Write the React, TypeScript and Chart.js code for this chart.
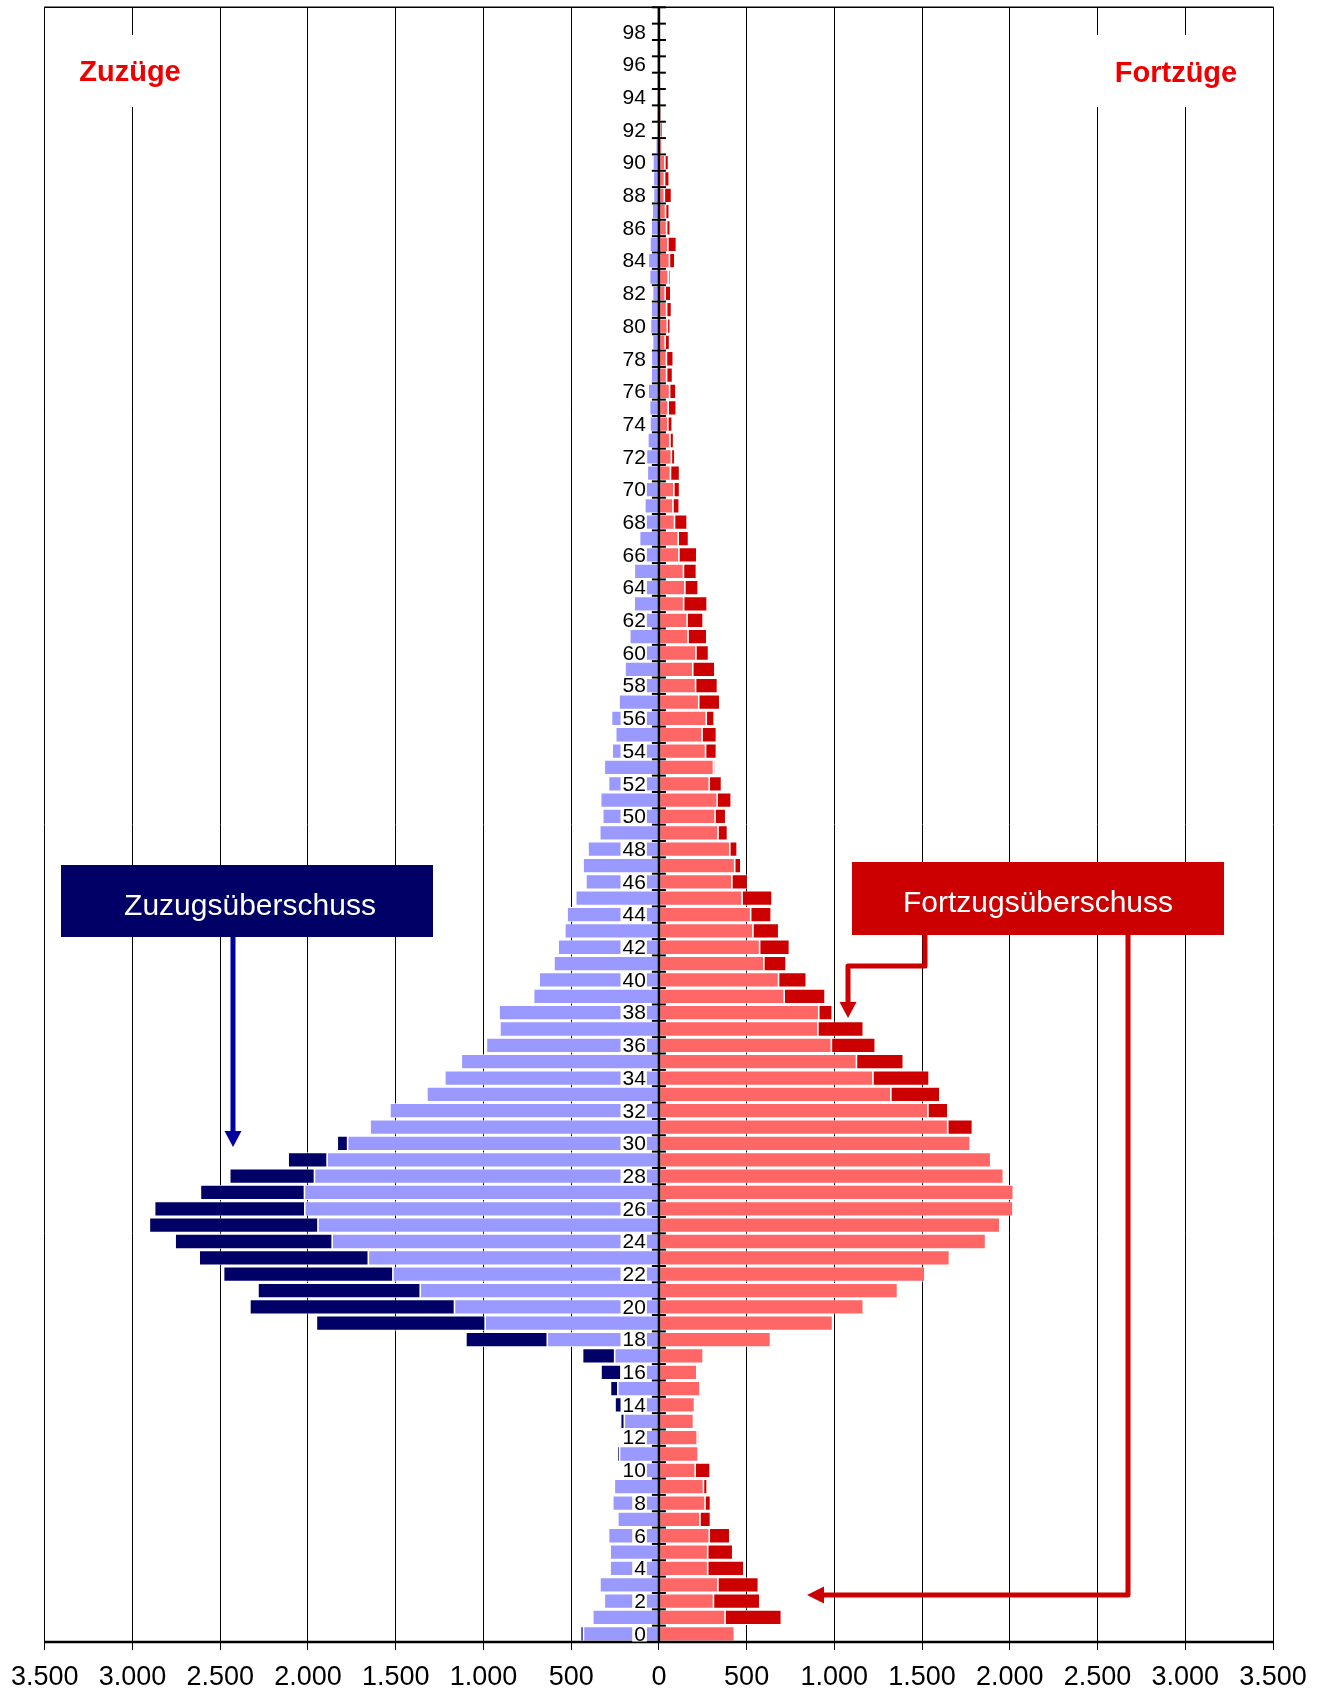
import React, { useEffect, useRef } from 'react';
import { Chart, registerables } from 'chart.js';

Chart.register(...registerables);

// Age categories 0..99 (bottom to top)
const ages: string[] = Array.from({ length: 100 }, (_, i) => String(i));

// Zuzüge (in-migration) by age 0..99
const zuzuege: number[] = [
  446, 377, 311, 336, 278, 278, 287, 234, 263, 254,
  207, 237, 218, 218, 250, 276, 330, 435, 1100, 1952,
  2331, 2285, 2481, 2620, 2757, 2904, 2874, 2613, 2446, 2113,
  1833, 1646, 1533, 1322, 1220, 1126, 983, 906, 911, 714,
  682, 598, 574, 536, 523, 474, 416, 432, 404, 337,
  320, 332, 287, 311, 266, 246, 270, 227, 209, 193,
  211, 166, 161, 141, 148, 140, 114, 110, 89, 80,
  85, 66, 71, 63, 51, 53, 61, 44, 43, 36,
  48, 44, 36, 53, 60, 51, 44, 38, 31, 32,
  34, 18, 6, 3, 2, 0, 0, 0, 0, 0,
];

// Fortzüge (out-migration) by age 0..99
const fortzuege: number[] = [
  430, 698, 575, 567, 484, 421, 404, 294, 294, 275,
  292, 224, 228, 197, 203, 234, 216, 252, 636, 990,
  1165, 1360, 1516, 1656, 1862, 1943, 2018, 2020, 1963, 1891,
  1774, 1787, 1647, 1601, 1540, 1393, 1233, 1165, 988, 947,
  840, 725, 744, 683, 640, 645, 505, 467, 446, 391,
  381, 412, 357, 321, 328, 328, 315, 347, 334, 319,
  283, 273, 252, 275, 224, 214, 216, 169, 161, 116,
  118, 118, 91, 84, 76, 99, 97, 78, 82, 61,
  65, 72, 68, 65, 91, 100, 65, 59, 72, 59,
  55, 22, 20, 14, 12, 0, 0, 0, 0, 0,
];

const xTicks: number[] = [-3500, -3000, -2500, -2000, -1500, -1000, -500, 0, 500, 1000, 1500, 2000, 2500, 3000, 3500];

const C_LIGHT_BLUE = '#9999ff';
const C_NAVY = '#000066';
const C_LIGHT_RED = '#ff6666';
const C_DARK_RED = '#cc0000';
const C_ARROW_BLUE = '#0000a0';
const C_TITLE_RED = '#ee0000';
const FONT = '"Liberation Sans", Arial, Helvetica, sans-serif';

function fmt(v: number): string {
  const a = Math.abs(Math.round(v));
  if (a >= 1000) {
    return Math.floor(a / 1000) + '.' + String(a % 1000).padStart(3, '0');
  }
  return String(a);
}

const overlayPlugin = {
  id: 'overlay',
  afterDatasetsDraw(chart: any) {
    const { ctx, chartArea, scales } = chart;
    const xs = scales.x;
    const ys = scales.y;
    const x0 = xs.getPixelForValue(0);
    const top = chartArea.top;
    const bottom = chartArea.bottom;
    const band = (bottom - top) / ages.length;
    ctx.save();

    // top frame line
    ctx.strokeStyle = '#000';
    ctx.lineWidth = 1.5;
    ctx.beginPath();
    ctx.moveTo(chartArea.left - 0.5, top);
    ctx.lineTo(chartArea.right + 0.5, top);
    ctx.stroke();

    // bottom axis line
    ctx.lineWidth = 2.5;
    ctx.beginPath();
    ctx.moveTo(chartArea.left - 0.5, bottom);
    ctx.lineTo(chartArea.right + 0.5, bottom);
    ctx.stroke();

    // white boxes behind titles
    ctx.fillStyle = '#fff';
    ctx.fillRect(68, 35, 126, 72);
    ctx.fillRect(1090, 35, 172, 72);

    // titles
    ctx.fillStyle = C_TITLE_RED;
    ctx.font = 'bold 29px ' + FONT;
    ctx.textAlign = 'center';
    ctx.textBaseline = 'alphabetic';
    ctx.fillText('Zuzüge', 130, 81);
    ctx.fillText('Fortzüge', 1176, 81.5);

    // age labels with white background
    ctx.font = '21px ' + FONT;
    ctx.textAlign = 'right';
    ctx.textBaseline = 'middle';
    ages.forEach((a, i) => {
      if (i % 2 !== 0) return;
      const yc = ys.getPixelForValue(i);
      const w = ctx.measureText(a).width;
      const right = x0 - 12;
      ctx.fillStyle = '#fff';
      ctx.fillRect(right - w - 3, yc - band / 2 + 0.5, w + 3, band - 1);
      ctx.fillStyle = '#000';
      ctx.fillText(a, right - 1, yc + 1);
    });

    // central axis
    ctx.strokeStyle = '#000';
    ctx.lineWidth = 2.6;
    ctx.beginPath();
    ctx.moveTo(x0, top);
    ctx.lineTo(x0, bottom);
    ctx.stroke();

    // tick marks on central axis
    ctx.lineWidth = 2;
    for (let i = 0; i <= ages.length; i++) {
      const yy = top + i * band;
      ctx.beginPath();
      ctx.moveTo(x0 - 7, yy);
      ctx.lineTo(x0 + 7, yy);
      ctx.stroke();
    }

    // Zuzugsüberschuss box
    ctx.fillStyle = C_NAVY;
    ctx.fillRect(61, 865, 372, 72);
    ctx.fillStyle = '#fff';
    ctx.font = '30px ' + FONT;
    ctx.textAlign = 'center';
    ctx.textBaseline = 'alphabetic';
    ctx.fillText('Zuzugsüberschuss', 250, 915);

    // blue arrow
    ctx.strokeStyle = C_ARROW_BLUE;
    ctx.fillStyle = C_ARROW_BLUE;
    ctx.lineWidth = 5;
    ctx.beginPath();
    ctx.moveTo(233, 937);
    ctx.lineTo(233, 1133);
    ctx.stroke();
    ctx.beginPath();
    ctx.moveTo(224.5, 1131);
    ctx.lineTo(241.5, 1131);
    ctx.lineTo(233, 1147);
    ctx.closePath();
    ctx.fill();

    // Fortzugsüberschuss box
    ctx.fillStyle = C_DARK_RED;
    ctx.fillRect(852, 862, 372, 73);
    ctx.fillStyle = '#fff';
    ctx.fillText('Fortzugsüberschuss', 1038, 912);

    // red connectors
    ctx.strokeStyle = C_DARK_RED;
    ctx.fillStyle = C_DARK_RED;
    ctx.lineWidth = 5;
    ctx.lineJoin = 'round';
    ctx.beginPath();
    ctx.moveTo(925, 935);
    ctx.lineTo(925, 966);
    ctx.lineTo(848, 966);
    ctx.lineTo(848, 1004);
    ctx.stroke();
    ctx.beginPath();
    ctx.moveTo(839.5, 1002);
    ctx.lineTo(856.5, 1002);
    ctx.lineTo(848, 1018);
    ctx.closePath();
    ctx.fill();

    ctx.beginPath();
    ctx.moveTo(1128, 935);
    ctx.lineTo(1128, 1595);
    ctx.lineTo(822, 1595);
    ctx.stroke();
    ctx.beginPath();
    ctx.moveTo(824, 1586.5);
    ctx.lineTo(824, 1603.5);
    ctx.lineTo(807, 1595);
    ctx.closePath();
    ctx.fill();

    ctx.restore();
  },
};

export default function App() {
  const canvasRef = useRef<HTMLCanvasElement | null>(null);

  useEffect(() => {
    const canvas = canvasRef.current;
    if (!canvas) return;

    const leftLight = zuzuege.map((z, i) => {
      const m = Math.min(z, fortzuege[i]);
      return m > 0 ? -m : null;
    });
    const leftDark = zuzuege.map((z, i) => (z > fortzuege[i] ? -(z - fortzuege[i]) : null));
    const rightLight = zuzuege.map((z, i) => {
      const m = Math.min(z, fortzuege[i]);
      return m > 0 ? m : null;
    });
    const rightDark = zuzuege.map((z, i) => (fortzuege[i] > z ? fortzuege[i] - z : null));

    const common = {
      borderColor: '#ffffff',
      borderWidth: 0.8,
      borderSkipped: false,
      barPercentage: 0.91,
      categoryPercentage: 1,
      stack: 's',
    };

    const chart = new Chart(canvas, {
      type: 'bar',
      data: {
        labels: ages,
        datasets: [
          { label: 'Zuzüge', data: leftLight, backgroundColor: C_LIGHT_BLUE, ...common },
          { label: 'Zuzugsüberschuss', data: leftDark, backgroundColor: C_NAVY, ...common },
          { label: 'Fortzüge', data: rightLight, backgroundColor: C_LIGHT_RED, ...common },
          { label: 'Fortzugsüberschuss', data: rightDark, backgroundColor: C_DARK_RED, ...common },
        ] as any,
      },
      options: {
        indexAxis: 'y',
        responsive: false,
        maintainAspectRatio: false,
        devicePixelRatio: 1,
        animation: false,
        layout: { padding: { left: 43, right: 50, top: 7.3, bottom: 0 } },
        plugins: {
          legend: { display: false },
          tooltip: { enabled: false },
          title: { display: false },
        },
        scales: {
          x: {
            type: 'linear',
            min: -3500,
            max: 3500,
            stacked: true,
            afterBuildTicks: (scale: any) => {
              scale.ticks = xTicks.map((v) => ({ value: v }));
            },
            afterFit: (scale: any) => {
              scale.height = 49;
            },
            grid: {
              color: '#000',
              lineWidth: 1,
              drawTicks: true,
              tickLength: 8,
              drawOnChartArea: true,
            },
            border: { display: false },
            ticks: {
              autoSkip: false,
              maxRotation: 0,
              minRotation: 0,
              padding: 11,
              color: '#000',
              font: { family: FONT, size: 27 },
              callback: (v: any) => fmt(Number(v)),
            },
          },
          y: {
            type: 'category',
            reverse: true,
            stacked: true,
            display: false,
            offset: true,
          },
        },
      } as any,
      plugins: [overlayPlugin],
    });

    return () => {
      chart.destroy();
    };
  }, []);

  return (
    <div style={{ position: 'absolute', left: 0, top: 0, width: 1323, height: 1691, background: '#fff' }}>
      <canvas ref={canvasRef} width={1323} height={1691} style={{ display: 'block', width: 1323, height: 1691 }} />
    </div>
  );
}
